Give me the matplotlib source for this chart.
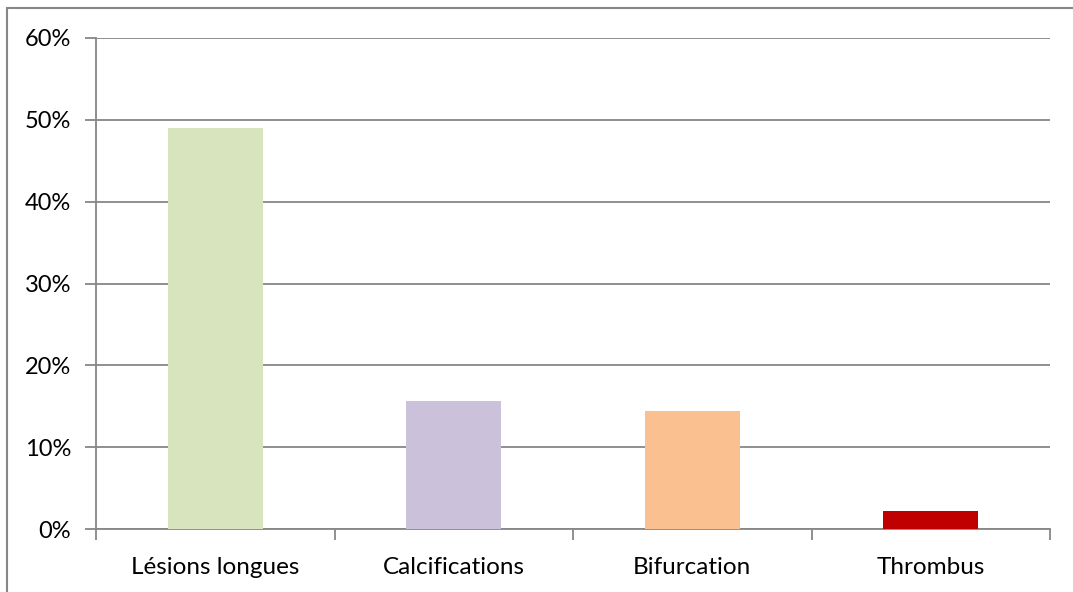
import matplotlib.pyplot as plt
from matplotlib.patches import Rectangle
from matplotlib.ticker import FixedLocator, PercentFormatter

# Data
categories = ['Lésions longues', 'Calcifications', 'Bifurcation', 'Thrombus']
values = [0.49, 0.157, 0.144, 0.022]
colors = ['#D7E4BD', '#CCC1DA', '#FAC090', '#C00000']
y_ticks = [0, 0.1, 0.2, 0.3, 0.4, 0.5, 0.6]

plt.rcParams['font.family'] = ['Lato', 'DejaVu Sans']
grid_col = '#878787'

fig = plt.figure(figsize=(10.73, 5.92), dpi=100)
W, H = 1073, 592
# outer chart frame (only top and left edges visible)
fig.patches.append(Rectangle((7 / W, -0.1), 1.2, (592 - 8) / H + 0.1,
                             transform=fig.transFigure, fill=False,
                             edgecolor=grid_col, linewidth=1.5))

ax = fig.add_axes([96 / W, (H - 529) / H, (1050 - 96) / W, (529 - 38) / H])
x = list(range(len(categories)))
ax.bar(x, values, width=0.4, color=colors, zorder=3)

ax.set_xlim(-0.5, len(categories) - 0.5)
ax.set_ylim(0, 0.6)
ax.yaxis.set_major_locator(FixedLocator(y_ticks))
ax.yaxis.set_major_formatter(PercentFormatter(1.0, decimals=0))
ax.grid(axis='y', color=grid_col, linewidth=1.3, zorder=0)

ax.set_xticks(x)
ax.set_xticklabels(categories)
ax.set_xticks([i - 0.5 for i in range(len(categories) + 1)], minor=True)
ax.tick_params(axis='x', which='major', length=0, pad=20, labelsize=17.5)
ax.tick_params(axis='x', which='minor', length=8, color=grid_col, width=1.3)
ax.tick_params(axis='y', length=8, color=grid_col, width=1.3, pad=10, labelsize=17)

for s in ['top', 'right']:
    ax.spines[s].set_visible(False)
for s in ['left', 'bottom']:
    ax.spines[s].set_color(grid_col)
    ax.spines[s].set_linewidth(1.3)

fig.savefig('out.png', dpi=100)
